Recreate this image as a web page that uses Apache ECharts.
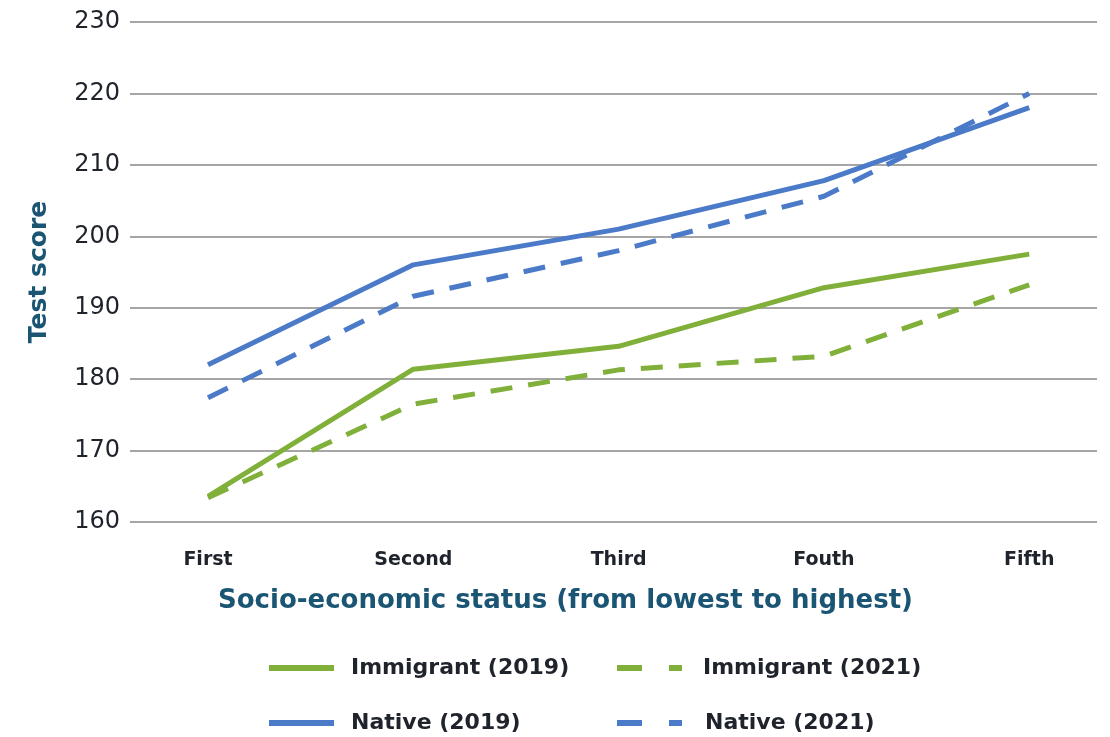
<!DOCTYPE html>
<html>
<head>
<meta charset="utf-8">
<script src="https://cdn.jsdelivr.net/npm/echarts@6/dist/echarts.min.js"></script>
<style>
html,body{margin:0;padding:0;background:#fff;}
#chart{width:1110px;height:737px;}
</style>
</head>
<body>
<div id="chart"></div>
<script>
const categories = ['First', 'Second', 'Third', 'Fouth', 'Fifth'];
const immigrant2019 = [163.6, 181.4, 184.6, 192.8, 197.5];
const immigrant2021 = [163.4, 176.5, 181.3, 183.2, 193.2];
const native2019 = [182.0, 196.0, 201.0, 207.8, 218.0];
const native2021 = [177.4, 191.6, 198.0, 205.6, 220.0];
const yTicks = [160, 170, 180, 190, 200, 210, 220, 230];
const seriesNames = ['Immigrant (2019)', 'Immigrant (2021)', 'Native (2019)', 'Native (2021)'];

const GREEN = '#80b03a';
const BLUE = '#4a7ac8';
const toPairs = arr => arr.map((v, i) => [i, v]);

const SOLID_ICON = 'path://M0,0H65V6H0Z';
const DASH_ICON = 'path://M0,0H25V6H0Z M52,0H65V6H52Z';

function lineSeries(name, data, color, dashed) {
  return {
    name: name,
    type: 'line',
    data: toPairs(data),
    symbol: 'none',
    smooth: false,
    color: color,
    itemStyle: { color: color },
    lineStyle: { color: color, width: 5, type: dashed ? [22, 16] : 'solid', cap: 'butt' },
    z: dashed ? 3 : 2
  };
}

function legendItem(name, left, top, dashed, textPad) {
  return {
    data: [name],
    left: left,
    top: top,
    padding: 0,
    icon: dashed ? DASH_ICON : SOLID_ICON,
    itemWidth: 65,
    itemHeight: 6,
    itemStyle: { borderWidth: 0 },
    selectedMode: false,
    textStyle: {
      fontFamily: 'DejaVu Sans', fontWeight: 'bold', fontSize: 22, color: '#1f232b',
      padding: [0, 0, 0, textPad]
    }
  };
}

const chart = echarts.init(document.getElementById('chart'), null, { renderer: 'canvas' });
chart.setOption({
  animation: false,
  backgroundColor: '#ffffff',
  grid: { left: 130, right: 13, top: 22, bottom: 215, containLabel: false },
  xAxis: {
    type: 'value',
    min: -0.38,
    max: 4.33,
    axisLine: { show: false },
    axisTick: { show: false },
    splitLine: { show: false },
    axisLabel: {
      customValues: categories.map((c, i) => i),
      formatter: v => (Number.isInteger(v) && categories[v] !== undefined) ? categories[v] : '',
      margin: 29,
      fontFamily: 'DejaVu Sans',
      fontWeight: 'bold',
      fontSize: 19,
      color: '#1f232b'
    }
  },
  yAxis: {
    type: 'value',
    min: yTicks[0],
    max: yTicks[yTicks.length - 1],
    interval: 10,
    name: 'Test score',
    nameLocation: 'middle',
    nameRotate: 90,
    nameGap: 78,
    nameTextStyle: { fontFamily: 'DejaVu Sans', fontWeight: 'bold', fontSize: 25, color: '#1b5574' },
    axisLine: { show: false },
    axisTick: { show: false },
    splitLine: { lineStyle: { color: '#a6a6a6', width: 2 } },
    axisLabel: {
      margin: 10,
      fontFamily: 'DejaVu Sans',
      fontSize: 24,
      color: '#1f232b'
    }
  },
  legend: [
    legendItem(seriesNames[0], 269, 657, false, 12),
    legendItem(seriesNames[1], 617, 657, true, 16),
    legendItem(seriesNames[2], 269, 712, false, 12),
    legendItem(seriesNames[3], 617, 712, true, 18)
  ],
  graphic: [
    {
      type: 'text',
      left: 218,
      top: 588,
      style: {
        text: 'Socio-economic status (from lowest to highest)',
        font: 'bold 26px "DejaVu Sans"',
        fill: '#1b5574'
      }
    }
  ],
  series: [
    lineSeries(seriesNames[0], immigrant2019, GREEN, false),
    lineSeries(seriesNames[1], immigrant2021, GREEN, true),
    lineSeries(seriesNames[2], native2019, BLUE, false),
    lineSeries(seriesNames[3], native2021, BLUE, true)
  ]
});
</script>
</body>
</html>
